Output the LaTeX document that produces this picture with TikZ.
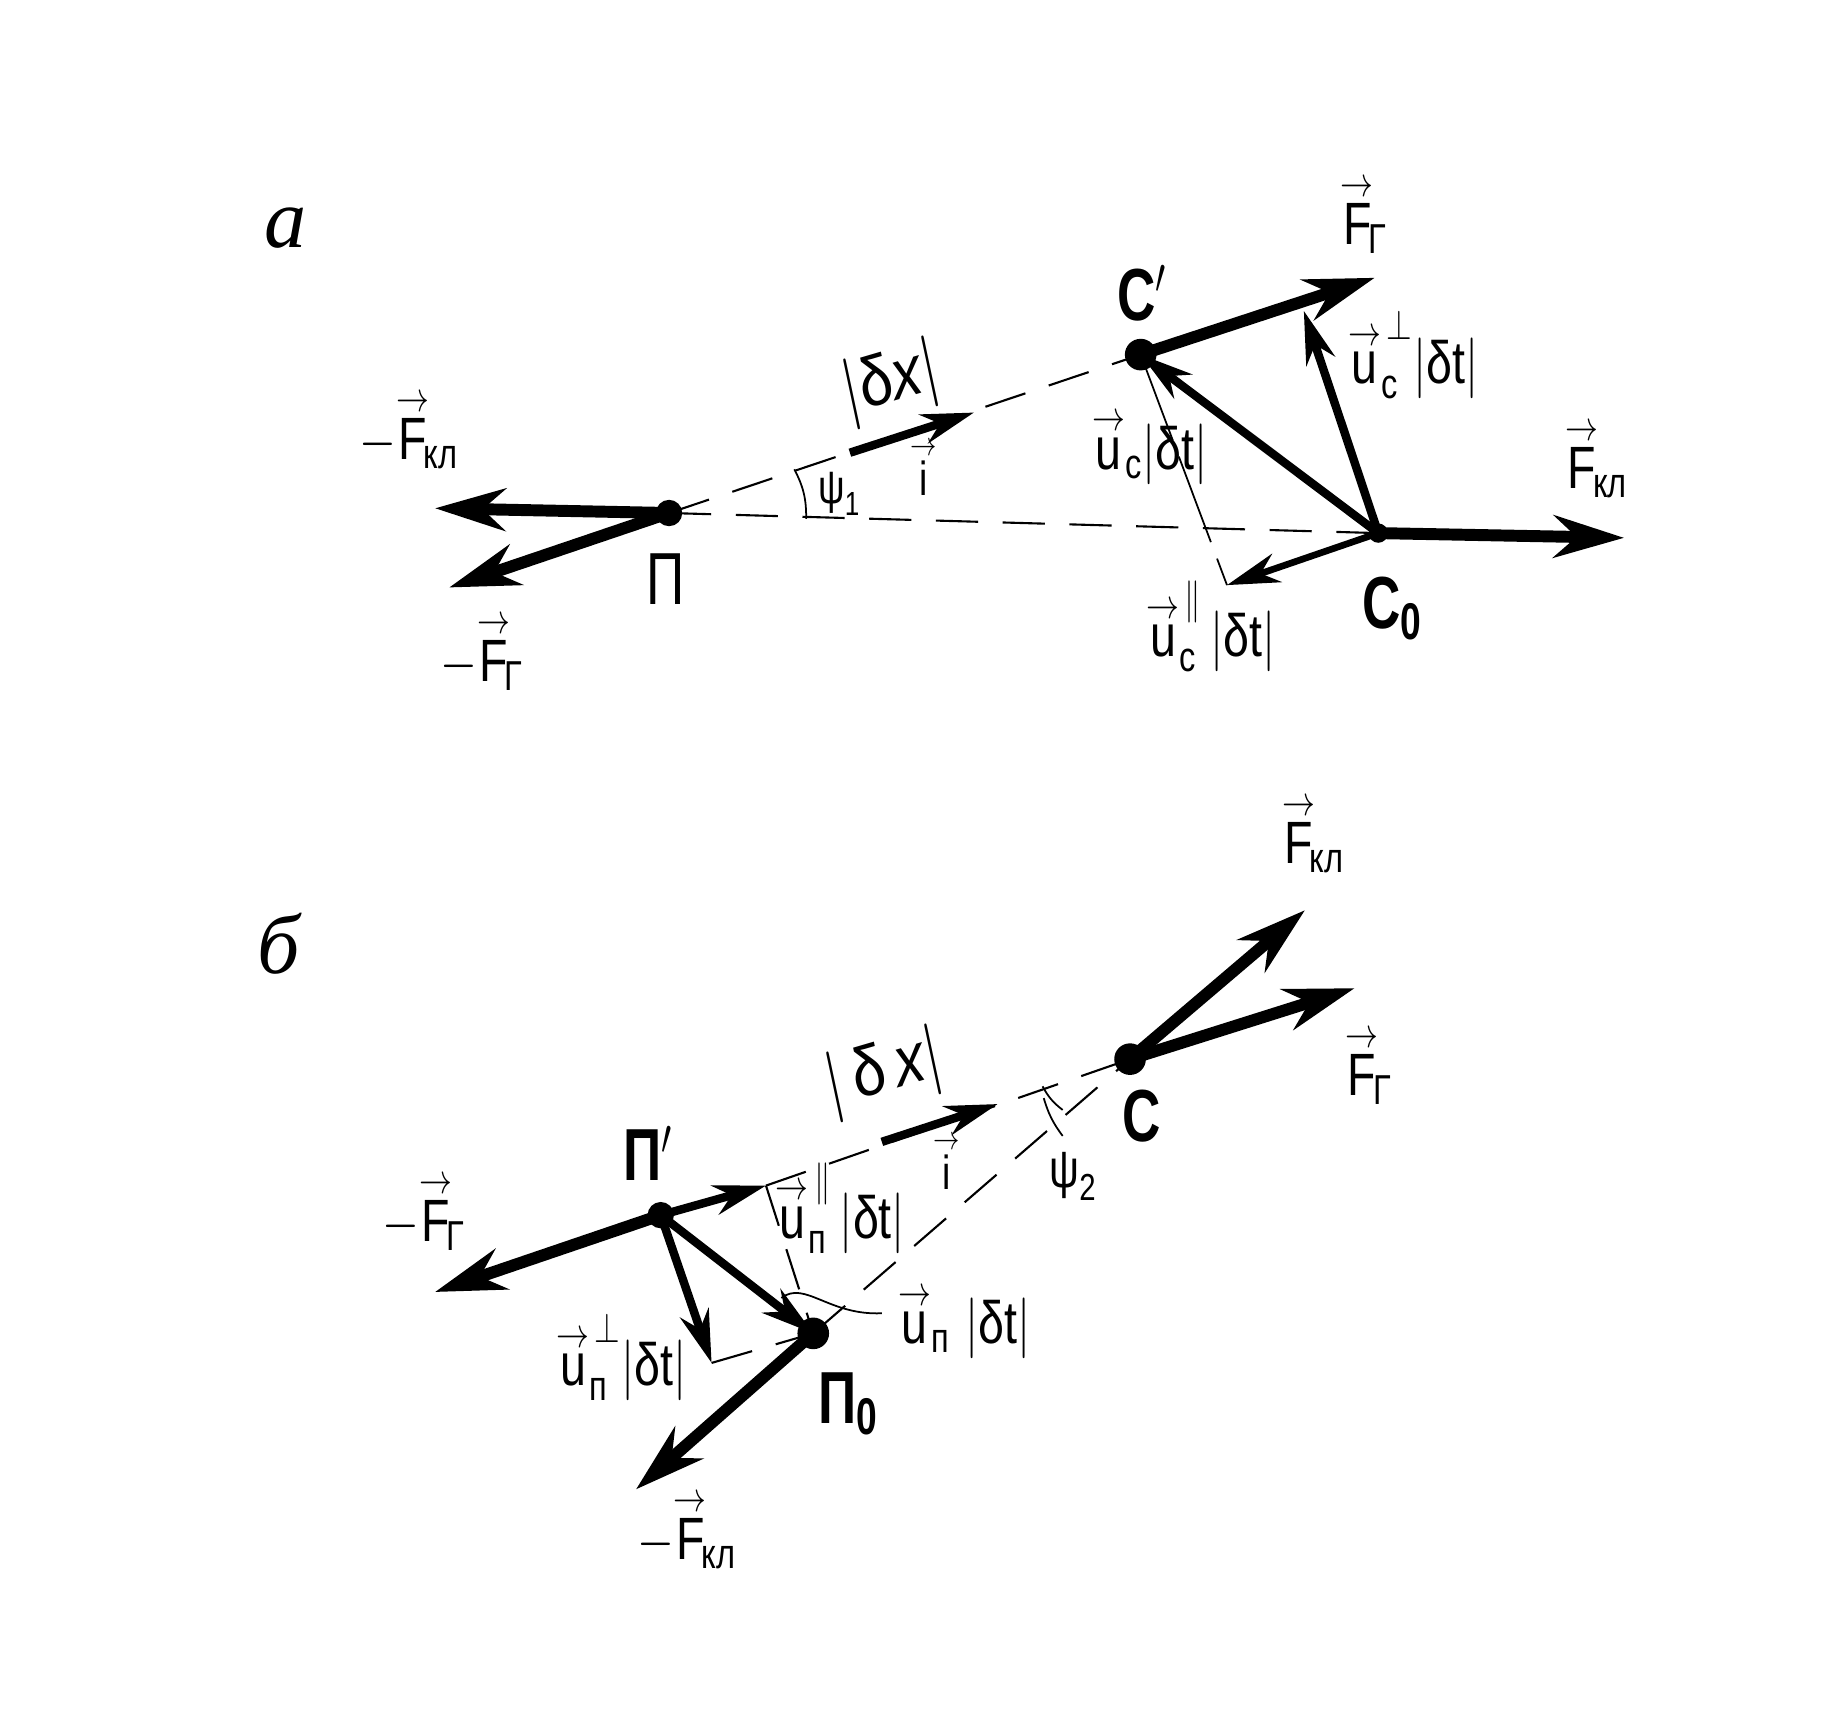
\documentclass[tikz,border=0pt]{standalone}
\usepackage{amsmath}
\usepackage{fontspec}
\setmainfont{Liberation Sans}
\newfontfamily\letterfont{Liberation Serif}
\usetikzlibrary{arrows.meta,positioning}

\newcommand{\topar}{\raisebox{-2.5pt}{$\scriptstyle\rightarrow$}}
\newcommand{\vF}{\overset{\topar}{\text{F}}}
\newcommand{\vu}{\overset{\topar}{\text{u}}}
\newcommand{\vi}{\overset{\topar}{\text{i}}}
\newcommand{\dt}{|\text{δt}|}

\tikzset{
  lbl/.style={font=\fontsize{17}{20}\selectfont, inner sep=0pt, transform shape, xscale=.78},
  dxlbl/.style={font=\fontsize{20}{24}\selectfont, inner sep=0pt, transform shape, xscale=.85, rotate=14},
  ptname/.style={font=\fontsize{21}{24}\selectfont\bfseries, inner sep=0pt, transform shape, xscale=.72},
  panel/.style={font=\fontsize{24}{30}\selectfont\letterfont\itshape, inner sep=0pt},
  dot/.style={circle, fill=black, inner sep=0pt, minimum size=7.5pt},
  force/.style={line width=3.4pt, -{Stealth[length=20pt,width=12pt]}},
  part/.style={line width=2.4pt, -{Stealth[length=15pt,width=8.5pt]}},
  guide/.style={line width=.6pt, dash pattern=on 12pt off 7pt},
  aux/.style={line width=.5pt}
}

\begin{document}
\begin{tikzpicture}[x=0.01182cm, y=-0.01182cm]
  \useasboundingbox (4,2) rectangle (1564,1464);

  % Part a
  \node[panel] (capa) at (246,195) {а};
  \node[dot] (Pa) at (570,436) {};
  \node[dot, minimum size=5.5pt] (Co) at (1170,453) {};
  \node[dot, minimum size=9pt] (Cp) at (969,302) {};
  \coordinate (Fkl1) at (372,432);
  \coordinate (Fg1) at (384,499);
  \coordinate (Fg2) at (1167,237);
  \coordinate (Fkl2) at (1378,457);
  \coordinate (ucperp) at (1107,265);
  \coordinate (ucpar) at (1042,497);
  \coordinate (ia1) at (723,385);
  \coordinate (ia2) at (828,351);
  \coordinate (psi1a) at (676,399);
  \coordinate (psi1b) at (686,441);

  \draw[guide] (Pa.center) -- (Cp.center);
  \draw[guide] (Pa.center) -- (Co.center);
  \draw[aux, dash pattern=on 26pt off 5pt] (Cp.center) -- (ucpar);
  \draw[aux] (psi1a) to[bend left=14] (psi1b);
  \draw[force] (Pa.center) -- (Fkl1);
  \draw[force] (Pa.center) -- (Fg1);
  \draw[force] (Cp.center) -- (Fg2);
  \draw[force] (Co.center) -- (Fkl2);
  \draw[part] (Co.center) -- (Cp.center);
  \draw[part] (Co.center) -- (ucperp);
  \draw[part, line width=1.9pt] (Co.center) -- (ucpar);
  \draw[part] (ia1) -- (ia2);

  \node[lbl] (lFg2) at (1158,183) {$\vF_{\!\text{Г}}$};
  \node[ptname] (lCp) at (970,250) {С$'$};
  \node[dxlbl] (ldx1) at (758,326) {$|\text{δ}\textit{x}|$};
  \node[lbl] (lFkl1) at (350,365) {$-\vF_{\!\text{кл}}$};
  \node[lbl, scale=.8] (li1) at (785,397) {$\vi$};
  \node[lbl, scale=.8] (lpsi1) at (714,420) {$\text{ψ}_{\text{1}}$};
  \node[lbl] (luc) at (977,380) {$\vu_{\text{с}}\dt$};
  \node[lbl] (lucperp) at (1200,302) {$\vu_{\text{с}}^{\,\perp}\dt$};
  \node[lbl] (lFkl2) at (1355,390) {$\vF_{\!\text{кл}}$};
  \node[ptname, font=\fontsize{21}{24}\selectfont] (lP) at (567,492) {П};
  \node[ptname] (lCo) at (1182,517) {С$_{\text{0}}$};
  \node[lbl] (lucpar) at (1032,532) {$\vu_{\text{с}}^{\,\parallel}\,\dt\,$};
  \node[lbl] (lFg1) at (412,553) {$-\vF_{\!\text{Г}}$};

  % Part b
  \node[panel] (capb) at (240,800) {б};
  \node[dot] (Pp) at (563,1030) {};
  \node[dot, minimum size=9pt] (Cb) at (960,898) {};
  \node[dot, minimum size=9pt] (Po) at (692,1130) {};
  \coordinate (Fkl3) at (1108,772);
  \coordinate (Fg3) at (1150,838);
  \coordinate (Fkl4) at (542,1262);
  \coordinate (Fg4) at (372,1095);
  \coordinate (upperp) at (606,1155);
  \coordinate (uppar) at (652,1005);
  \coordinate (ib1) at (750,968);
  \coordinate (ib2) at (848,936);
  \coordinate (psi2a) at (886,921);
  \coordinate (psi2b) at (903,941);
  \coordinate (psi2c) at (887,931);
  \coordinate (psi2d) at (903,963);
  \coordinate (tail1) at (665,1100);
  \coordinate (tail2) at (750,1113);

  \draw[guide] (uppar) -- (Cb.center);
  \draw[guide] (Po.center) -- (Cb.center);
  \draw[guide] (uppar) -- (Po.center);
  \draw[guide] (upperp) -- (Po.center);
  \draw[aux] (psi2a) to[bend right=12] (psi2b);
  \draw[aux] (psi2c) to[bend right=10] (psi2d);
  \draw[aux] (tail1) .. controls (685,1085) and (705,1115) .. (tail2);
  \draw[force] (Cb.center) -- (Fkl3);
  \draw[force] (Cb.center) -- (Fg3);
  \draw[force] (Po.center) -- (Fkl4);
  \draw[force] (Pp.center) -- (Fg4);
  \draw[part] (Pp.center) -- (Po.center);
  \draw[part] (Pp.center) -- (upperp);
  \draw[part] (Pp.center) -- (uppar);
  \draw[part] (ib1) -- (ib2);

  \node[lbl] (lFkl3) at (1115,707) {$\vF_{\!\text{кл}}$};
  \node[lbl] (lFg3) at (1162,903) {$\vF_{\!\text{Г}}$};
  \node[ptname] (lC) at (970,946) {С};
  \node[dxlbl] (ldx2) at (752,910) {$|\,\text{δ}\,\textit{x}|$};
  \node[lbl, scale=.8] (li2) at (805,984) {$\vi$};
  \node[lbl, scale=.9] (lpsi2) at (912,997) {$\text{ψ}_{\text{2}}$};
  \node[ptname] (lPp) at (552,978) {П$'$};
  \node[lbl] (lFg4) at (363,1027) {$-\vF_{\!\text{Г}}$};
  \node[lbl] (luppar) at (715,1024) {$\vu_{\text{п}}^{\,\parallel}\,\dt$};
  \node[lbl] (lup) at (820,1120) {$\vu_{\text{п}}\,\,\dt$};
  \node[lbl] (lupperp) at (530,1150) {$\vu_{\text{п}}^{\,\perp}\dt$};
  \node[ptname] (lPo) at (722,1190) {П$_{\text{0}}$};
  \node[lbl] (lFkl4) at (585,1296) {$-\vF_{\!\text{кл}}$};
\end{tikzpicture}
\end{document}
